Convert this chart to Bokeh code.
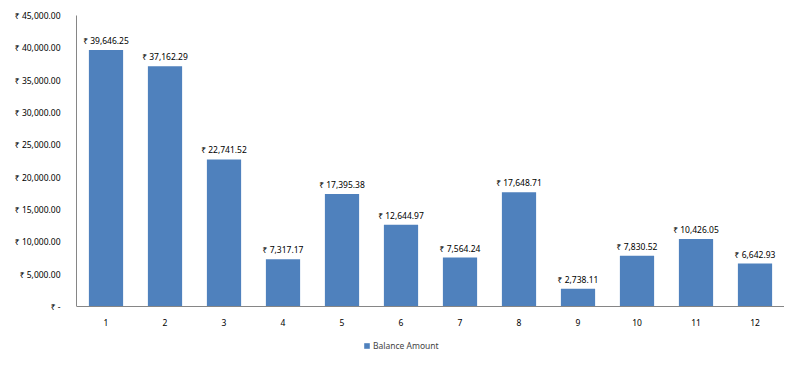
from bokeh.plotting import figure
from bokeh.models import ColumnDataSource, FixedTicker, Legend, LegendItem, Range1d
from bokeh.core.properties import value
from bokeh.embed import file_html
from bokeh.resources import INLINE

months = [1, 2, 3, 4, 5, 6, 7, 8, 9, 10, 11, 12]
balance = [39646.25, 37162.29, 22741.52, 7317.17, 17395.38, 12644.97,
           7564.24, 17648.71, 2738.11, 7830.52, 10426.05, 6642.93]
y_ticks = [0, 5000, 10000, 15000, 20000, 25000, 30000, 35000, 40000, 45000]
series_name = "Balance Amount"

labels = ["₹ {:,.2f}".format(v) for v in balance]
src = ColumnDataSource(dict(x=months, top=balance, label=labels))

FONT = "Noto Sans"
BLUE = "#4F81BD"

p = figure(width=784, height=351, output_backend="svg", toolbar_location=None,
           x_range=Range1d(0.5, 12.5), y_range=Range1d(-6959, 45000),
           min_border_left=76, min_border_right=0, min_border_top=15, min_border_bottom=0)
p.outline_line_color = None
p.xgrid.visible = False
p.ygrid.visible = False
p.background_fill_color = "white"

r = p.vbar(x="x", top="top", width=0.58, source=src, fill_color=BLUE, line_color=None)
p.text(x="x", y="top", text="label", source=src, text_align="center",
       text_baseline="bottom", y_offset=-4, text_font=value(FONT),
       text_font_size="8.5px", text_color="#000000")

p.xaxis.fixed_location = 0
p.xaxis.ticker = FixedTicker(ticks=months)
p.yaxis.ticker = FixedTicker(ticks=y_ticks)
p.yaxis.bounds = (0, 45000)
overrides = {t: ("₹ {:,.2f}".format(t) if t else "₹ -") for t in y_ticks}
p.yaxis.major_label_overrides = overrides
for ax in (p.xaxis[0], p.yaxis[0]):
    ax.axis_line_color = "#868686"
    ax.major_tick_line_color = None
    ax.minor_tick_line_color = None
    ax.major_label_text_font = FONT
    ax.major_label_text_font_size = "8.5px"
    ax.major_label_text_color = "#000000"
p.yaxis.major_label_standoff = 10
p.xaxis.major_label_standoff = 7

legend = Legend(items=[LegendItem(label=series_name, renderers=[r])],
                location=(287, 0), orientation="horizontal",
                label_text_font=FONT, label_text_font_size="8.5px",
                glyph_width=7, glyph_height=7, label_standoff=3,
                label_height=10,
                border_line_color=None, background_fill_alpha=0,
                margin=0, padding=2, spacing=0)
p.add_layout(legend)

open("out.html", "w").write(file_html(p, INLINE))
